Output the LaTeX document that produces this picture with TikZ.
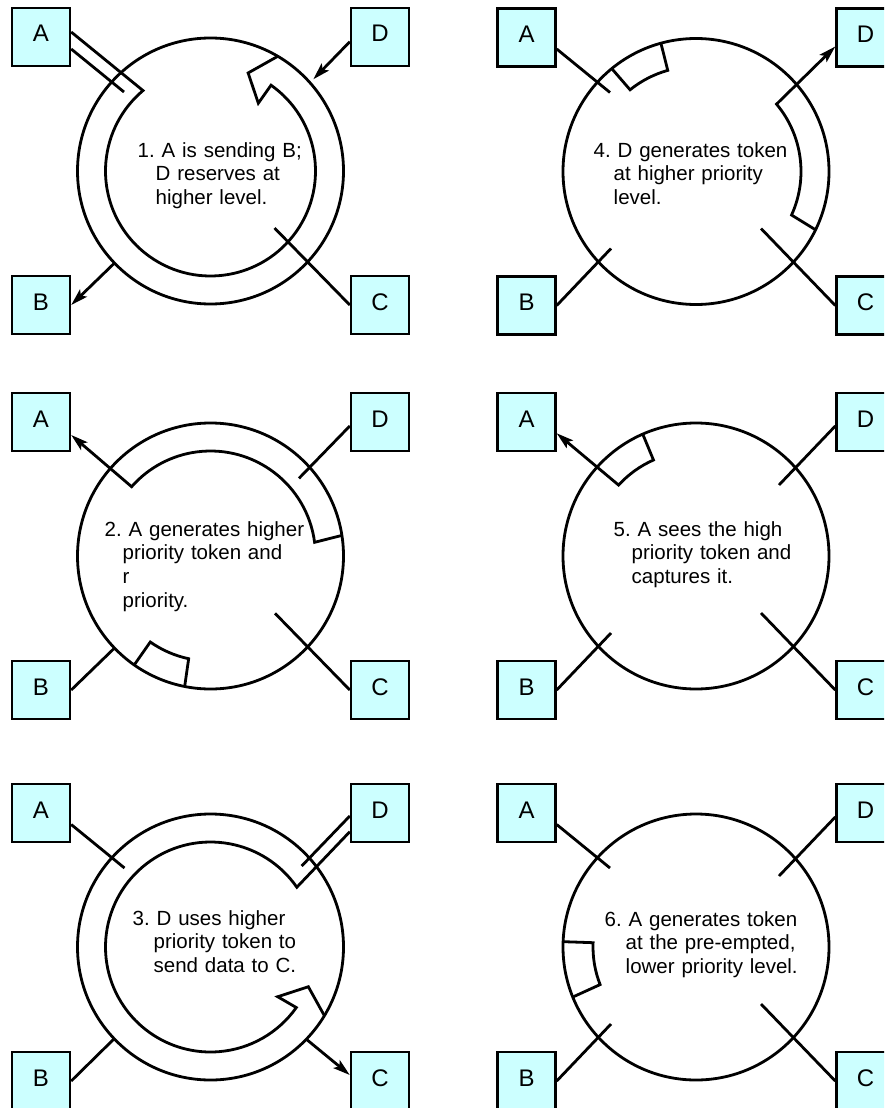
\documentclass[tikz,border=0pt]{standalone}
\usepackage{fontspec}
\setmainfont{Liberation Sans}
\usetikzlibrary{arrows.meta}
\definecolor{boxcyan}{RGB}{204,255,255}
\tikzset{
  station/.style={draw, line width=2.4pt, fill=boxcyan, minimum size=58pt, inner sep=0pt,
    text height=17pt, text depth=7pt, font=\fontsize{24}{28}\selectfont},
  ring/.style={line width=2.8pt},
  link/.style={line width=2.8pt},
  arr/.style={link, -{Stealth[length=17pt,width=10pt,inset=3.5pt]}},
  note/.style={inner sep=0pt, text width=260pt, align=left,
    font=\fontsize{20.5}{23.7}\selectfont\frenchspacing, anchor=base west},
}
\newcommand\stations[1]{%
  \node[station] (A#1) at (-169.5,134) {A};
  \node[station] (D#1) at (169.5,134) {D};
  \node[station] (B#1) at (-169.5,-134) {B};
  \node[station] (C#1) at (169.5,-134) {C};}
\newcommand\hang[1]{\noindent\hspace*{-#1pt}}
\begin{document}
\begin{tikzpicture}[x=1pt,y=1pt]
\useasboundingbox (0,0) rectangle (884,-1108);
\clip (0,0) rectangle (884,-1108);
% ---------- panel 1
\begin{scope}[shift={(210.5,-171)}]
  \stations{1}
  \draw[ring] (0,0) circle[radius=133];
  \draw[link] (59.6:133) coordinate (o1) -- (69:105) -- (54.8:83) -- (54.8:105)
     arc[start angle=54.8, end angle=-230, radius=105] -- ([yshift=5pt]A1.east);
  \draw[link] ([yshift=-12pt]A1.east) -- (-86.5,79) coordinate (a1in);
  \draw[arr] ([yshift=-4.7pt]D1.west) -- (102.8,91.7) coordinate (d1tip);
  \draw[arr] (223.8:133) coordinate (b1out) -- (B1.east);
  \draw[link] (C1.west) -- (64,-57) coordinate (c1in);
  \node[note] (t1) at (-55,14) {\hang{18}1. A is sending B;\newline D reserves at\newline higher level.};
\end{scope}
% ---------- panel 2
\begin{scope}[shift={(210.5,-556)}]
  \stations{2}
  \draw[ring] (0,0) circle[radius=133];
  \draw[arr] (8.9:133) coordinate (o2) -- (7.5:105)
     arc[start angle=7.5, end angle=138.7, radius=105] -- ([yshift=-13pt]A2.east);
  \draw[link] (235:133) -- (235:105) arc[start angle=235, end angle=258, radius=105] -- (258.8:133);
  \draw[link] (B2.east) -- (223.8:133) coordinate (b2in);
  \draw[link] (C2.west) -- (64.5,-57.3) coordinate (c2in);
  \draw[link] ([yshift=-4pt]D2.west) -- (88.5,77.7) coordinate (d2in);
  \node[note] (t2) at (-88,20) {\hang{18}2. A generates higher\newline priority token and\newline r\newline priority.};
\end{scope}
% ---------- panel 3
\begin{scope}[shift={(210.5,-947)}]
  \stations{3}
  \draw[ring] (0,0) circle[radius=133];
  \draw[link] ([yshift=-18.7pt]D3.west) -- (34.7:105)
     arc[start angle=34.7, end angle=324.8, radius=105] -- (323.5:83.6) -- (337.9:105.6) -- (328.9:133) coordinate (o3);
  \draw[link] ([yshift=-3pt]D3.west) -- (91.2,81) coordinate (d3in);
  \draw[arr] (316.1:133) coordinate (c3out) -- ([yshift=6pt]C3.west);
  \draw[link] ([yshift=-11.5pt]A3.east) -- (-86,79) coordinate (a3in);
  \draw[link] (B3.east) -- (223.6:133) coordinate (b3in);
  \node[note] (t3) at (-57,22) {\hang{21}3. D uses higher\newline priority token to\newline send data to C.};
\end{scope}
% ---------- panel 4
\begin{scope}[shift={(696,-171.5)}]
  \stations{4}
  \draw[ring] (0,0) circle[radius=133];
  \draw[link] (129.3:133) -- (128.9:105) arc[start angle=128.9, end angle=105.6, radius=105] -- (105.3:133);
  \draw[arr] (-26:133) coordinate (o4) -- (-24.5:105)
     arc[start angle=-24.5, end angle=39.9, radius=105] -- ([yshift=-9pt]D4.west);
  \draw[link] ([yshift=-11.5pt]A4.east) -- (-86,79) coordinate (a4in);
  \draw[link] (B4.east) -- (-85,-77) coordinate (b4in);
  \draw[link] (C4.west) -- (65,-57) coordinate (c4in);
  \node[note] (t4) at (-82.5,14.5) {\hang{20}4. D generates token\newline at higher priority\newline level.};
\end{scope}
% ---------- panel 5
\begin{scope}[shift={(696,-556)}]
  \stations{5}
  \draw[ring] (0,0) circle[radius=133];
  \draw[arr] (113.6:133) coordinate (o5) -- (113.9:105)
     arc[start angle=113.9, end angle=137.5, radius=105] -- ([yshift=-11.3pt]A5.east);
  \draw[link] (B5.east) -- (-85,-77) coordinate (b5in);
  \draw[link] (C5.west) -- (65,-57) coordinate (c5in);
  \draw[link] ([yshift=-4pt]D5.west) -- (83,71) coordinate (d5in);
  \node[note] (t5) at (-64.5,20) {\hang{18}5. A sees the high\newline priority token and\newline captures it.};
\end{scope}
% ---------- panel 6
\begin{scope}[shift={(696,-947)}]
  \stations{6}
  \draw[ring] (0,0) circle[radius=133];
  \draw[link] (177.7:133) -- (177.6:103) arc[start angle=177.6, end angle=201.4, radius=103] -- (202.1:133);
  \draw[link] ([yshift=-11.5pt]A6.east) -- (-86,79) coordinate (a6in);
  \draw[link] (B6.east) -- (-85,-77) coordinate (b6in);
  \draw[link] (C6.west) -- (65,-57) coordinate (c6in);
  \draw[link] ([yshift=-4pt]D6.west) -- (83,71) coordinate (d6in);
  \node[note] (t6) at (-70.5,21) {\hang{21}6. A generates token\newline at the pre-empted,\newline lower priority level.};
\end{scope}
\end{tikzpicture}
\end{document}
